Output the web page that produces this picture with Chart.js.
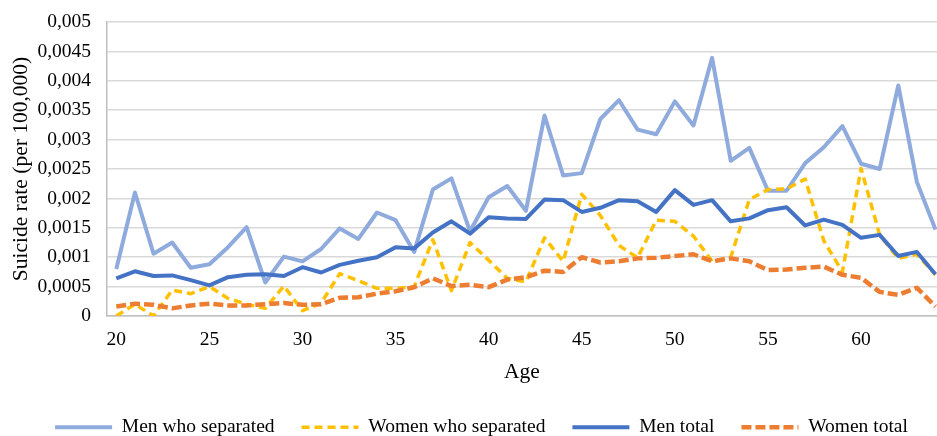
<!DOCTYPE html>
<html>
<head>
<meta charset="utf-8">
<script src="https://cdn.jsdelivr.net/npm/chart.js@4.4.1/dist/chart.umd.min.js"></script>
<style>
  html, body { margin: 0; padding: 0; background: #fff; overflow: hidden; }
  canvas { display: block; }
</style>
</head>
<body>
<canvas id="chart" width="937" height="436"></canvas>
<script>
// Ages on the horizontal axis
const ages = [20,21,22,23,24,25,26,27,28,29,30,31,32,33,34,35,36,37,38,39,40,41,42,43,44,45,46,47,48,49,50,51,52,53,54,55,56,57,58,59,60,61,62,63,64];

// Suicide rates by age
const menSeparated = [0.00080,0.00210,0.00106,0.00125,0.00082,0.00088,0.00117,0.00151,0.00057,0.00101,
  0.00093,0.00114,0.00149,0.00131,0.00176,0.00163,0.00109,0.00215,0.00234,0.00144,
  0.00202,0.00221,0.00179,0.00341,0.00239,0.00243,0.00335,0.00367,0.00317,0.00309,
  0.00365,0.00324,0.00439,0.00264,0.00286,0.00213,0.00213,0.00260,0.00287,0.00323,
  0.00259,0.00250,0.00392,0.00228,0.00147];
const womenSeparated = [0.00000,0.00020,0.00000,0.00044,0.00038,0.00050,0.00030,0.00020,0.00013,0.00051,
  0.00009,0.00022,0.00072,0.00060,0.00047,0.00047,0.00050,0.00130,0.00043,0.00125,
  0.00095,0.00064,0.00058,0.00133,0.00093,0.00207,0.00171,0.00120,0.00099,0.00163,
  0.00161,0.00136,0.00093,0.00100,0.00198,0.00215,0.00216,0.00233,0.00128,0.00075,
  0.00251,0.00138,0.00098,0.00105,0.00070];
const menTotal = [0.00064,0.00076,0.00068,0.00069,0.00061,0.00052,0.00066,0.00070,0.00071,0.00068,
  0.00083,0.00074,0.00087,0.00094,0.00100,0.00117,0.00115,0.00142,0.00161,0.00140,
  0.00168,0.00166,0.00165,0.00198,0.00197,0.00177,0.00184,0.00197,0.00195,0.00177,
  0.00214,0.00189,0.00197,0.00161,0.00166,0.00180,0.00185,0.00154,0.00164,0.00155,
  0.00133,0.00138,0.00102,0.00109,0.00071];
const womenTotal = [0.00016,0.00021,0.00019,0.00013,0.00018,0.00021,0.00018,0.00018,0.00020,0.00022,
  0.00019,0.00020,0.00031,0.00032,0.00038,0.00042,0.00049,0.00064,0.00051,0.00053,
  0.00049,0.00062,0.00066,0.00077,0.00075,0.00100,0.00091,0.00093,0.00098,0.00099,
  0.00102,0.00105,0.00093,0.00098,0.00093,0.00078,0.00079,0.00082,0.00084,0.00070,
  0.00065,0.00041,0.00036,0.00048,0.00016];

// Tick values
const xTicks = [20,25,30,35,40,45,50,55,60];
const yTicks = [0,0.0005,0.001,0.0015,0.002,0.0025,0.003,0.0035,0.004,0.0045,0.005];

const FONT = "'Liberation Serif', 'Times New Roman', serif";
const TEXT = '#000';

const toPoints = vals => ages.map((a, i) => ({ x: a, y: vals[i] }));
const fmtRate = v => v === 0 ? '0' : v.toFixed(4).replace(/0+$/, '').replace('.', ',');

// Nudge the legend row sideways after layout
const legendShift = {
  id: 'legendShift',
  afterLayout(chart) {
    if (chart.legend) { chart.legend.left += 13; chart.legend.right += 13; }
  }
};

new Chart(document.getElementById('chart'), {
  type: 'line',
  data: {
    datasets: [
      { label: 'Men who separated', data: toPoints(menSeparated), borderColor: '#8FAADC', borderWidth: 4, order: 3 },
      { label: 'Women who separated', data: toPoints(womenSeparated), borderColor: '#FFC000', borderWidth: 3.5, borderDash: [8, 5], order: 2 },
      { label: 'Men total', data: toPoints(menTotal), borderColor: '#4472C4', borderWidth: 4, order: 1 },
      { label: 'Women total', data: toPoints(womenTotal), borderColor: '#ED7D31', borderWidth: 4.5, borderDash: [10, 4], order: 0 }
    ]
  },
  plugins: [legendShift],
  options: {
    responsive: false,
    animation: false,
    devicePixelRatio: 1,
    layout: { padding: { top: 22, left: 0, right: 0, bottom: -11 } },
    elements: {
      point: { radius: 0, hoverRadius: 0 },
      line: { tension: 0, fill: false, borderCapStyle: 'butt', borderJoinStyle: 'round' }
    },
    plugins: {
      tooltip: { enabled: false },
      legend: {
        position: 'bottom',
        labels: {
          usePointStyle: true,
          pointStyle: 'line',
          pointStyleWidth: 57,
          padding: 27,
          color: TEXT,
          font: { family: FONT, size: 19.5 },
          generateLabels: ch => ch.data.datasets.map((ds, i) => ({
            text: ds.label,
            strokeStyle: ds.borderColor,
            fillStyle: ds.borderColor,
            lineWidth: ds.borderWidth,
            lineDash: ds.borderDash || [],
            lineCap: 'butt',
            pointStyle: 'line',
            fontColor: TEXT,
            hidden: false,
            datasetIndex: i
          }))
        }
      }
    },
    scales: {
      x: {
        type: 'linear',
        min: 19.5,
        max: 64.08,
        afterBuildTicks: s => { s.ticks = xTicks.map(v => ({ value: v })); },
        afterFit: s => { s.height = 74.5; },
        grid: { display: false, drawTicks: false },
        border: { display: true, color: '#BFBFBF', width: 1.5 },
        ticks: { padding: 12, maxRotation: 0, color: TEXT, font: { family: FONT, size: 19.5 }, callback: v => String(v) },
        title: { display: true, text: 'Age', color: TEXT, font: { family: FONT, size: 21.5 }, padding: { top: 0, bottom: 5 } }
      },
      y: {
        min: 0,
        max: 0.005,
        afterBuildTicks: s => { s.ticks = yTicks.map(v => ({ value: v })); },
        afterFit: s => { s.width = 107; s.paddingTop = 0; s.paddingBottom = 0; },
        grid: { color: '#D9D9D9', lineWidth: 1.5, drawTicks: false },
        border: { display: true, color: '#BFBFBF', width: 1.5 },
        ticks: { padding: 16, color: TEXT, font: { family: FONT, size: 19.5 }, callback: v => fmtRate(v) },
        title: { display: true, text: 'Suicide rate (per 100,000)', color: TEXT, font: { family: FONT, size: 21.5 }, padding: { top: 8, bottom: 0 } }
      }
    }
  }
});
</script>
</body>
</html>
